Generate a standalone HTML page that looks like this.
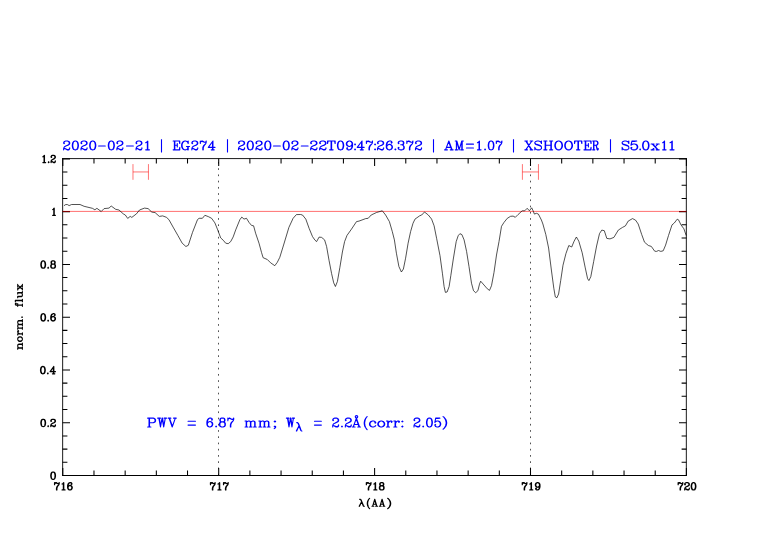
<!DOCTYPE html>
<html><head><meta charset="utf-8"><title>plot</title>
<style>
html,body{margin:0;padding:0;background:#fff;font-family:"Liberation Sans",sans-serif;}
svg{display:block;}
</style></head>
<body>
<svg width="782" height="542" viewBox="0 0 782 542">
<rect width="782" height="542" fill="#fff"/>
<g stroke="#000" stroke-width="1" fill="none" stroke-linecap="butt">
<path d="M62.65 158.1V475.9M686.33 158.1V475.9M62.2 158.58H686.8" stroke-width="0.9"/>
<path d="M62.2 475.5H686.8" stroke-width="1"/>
<path d="M62.8 475.5v-7.5M62.8 158.5v7.5M93.98 475.5v-4.9M93.98 158.5v4.9M125.16 475.5v-4.9M125.16 158.5v4.9M156.34 475.5v-4.9M156.34 158.5v4.9M187.52 475.5v-4.9M187.52 158.5v4.9M218.7 475.5v-7.5M218.7 158.5v7.5M249.88 475.5v-4.9M249.88 158.5v4.9M281.06 475.5v-4.9M281.06 158.5v4.9M312.24 475.5v-4.9M312.24 158.5v4.9M343.42 475.5v-4.9M343.42 158.5v4.9M374.6 475.5v-7.5M374.6 158.5v7.5M405.78 475.5v-4.9M405.78 158.5v4.9M436.96 475.5v-4.9M436.96 158.5v4.9M468.14 475.5v-4.9M468.14 158.5v4.9M499.32 475.5v-4.9M499.32 158.5v4.9M530.5 475.5v-7.5M530.5 158.5v7.5M561.68 475.5v-4.9M561.68 158.5v4.9M592.86 475.5v-4.9M592.86 158.5v4.9M624.04 475.5v-4.9M624.04 158.5v4.9M655.22 475.5v-4.9M655.22 158.5v4.9M686.4 475.5v-7.5M686.4 158.5v7.5M62.5 475.5h7.5M686.5 475.5h-7.5M62.5 462.31h4.9M686.5 462.31h-4.9M62.5 449.11h4.9M686.5 449.11h-4.9M62.5 435.92h4.9M686.5 435.92h-4.9M62.5 422.73h7.5M686.5 422.73h-7.5M62.5 409.53h4.9M686.5 409.53h-4.9M62.5 396.34h4.9M686.5 396.34h-4.9M62.5 383.14h4.9M686.5 383.14h-4.9M62.5 369.95h7.5M686.5 369.95h-7.5M62.5 356.76h4.9M686.5 356.76h-4.9M62.5 343.56h4.9M686.5 343.56h-4.9M62.5 330.37h4.9M686.5 330.37h-4.9M62.5 317.17h7.5M686.5 317.17h-7.5M62.5 303.98h4.9M686.5 303.98h-4.9M62.5 290.79h4.9M686.5 290.79h-4.9M62.5 277.59h4.9M686.5 277.59h-4.9M62.5 264.4h7.5M686.5 264.4h-7.5M62.5 251.21h4.9M686.5 251.21h-4.9M62.5 238.01h4.9M686.5 238.01h-4.9M62.5 224.82h4.9M686.5 224.82h-4.9M62.5 211.62h7.5M686.5 211.62h-7.5M62.5 198.43h4.9M686.5 198.43h-4.9M62.5 185.24h4.9M686.5 185.24h-4.9M62.5 172.04h4.9M686.5 172.04h-4.9M62.5 158.85h7.5M686.5 158.85h-7.5" stroke-width="1.05"/>
</g>
<path d="M218.5 475.5V158.5" stroke="#000" stroke-width="0.68" stroke-dasharray="1.7 4.535" stroke-dashoffset="6.174" fill="none"/>
<path d="M530.5 475.5V158.5" stroke="#000" stroke-width="0.68" stroke-dasharray="1.7 4.535" stroke-dashoffset="6.174" fill="none"/>
<path d="M62.5 211.4H686.5" stroke="#ff0000" stroke-width="0.57" fill="none"/>
<path d="M132.98 164.1V179.8M148.45 164.1V179.8M132.98 171.94H148.45" stroke="#ff0000" stroke-width="0.55" fill="none"/>
<path d="M522.4 164.1V179.8M538.44 164.1V179.8M522.4 171.94H538.44" stroke="#ff0000" stroke-width="0.55" fill="none"/>
<polyline points="64,205.7 65.8,204.5 67.5,204.6 69.1,205.6 71.6,204.5 80,204.5 84.1,206.3 92.4,208.3 94.9,209.8 96.9,208.3 101.2,211.5 104.1,208.6 109,208.1 111.2,206 115.7,209.3 119,210 123.2,213.8 125.3,215 127.7,218.4 130.2,216.4 131.8,217.4 136.5,213.8 139.5,210 144.5,208.1 148.1,208.6 151.8,212.1 155.1,212.6 159.3,216.4 162.7,215.9 166.4,217.3 168.9,219.6 173.1,227.1 178,235.7 182.2,243.2 185.9,246.5 188.3,245.3 192.5,232.4 197.5,219.6 199.1,218.3 202.4,218.3 204.9,215.3 208.3,216.6 211.6,218.3 214.9,222.9 217.4,229.1 220.7,237.9 223.2,240.2 225.7,243.2 228.2,243.7 230.7,241.6 233.2,236.9 235.7,229.9 239.9,219.6 241.8,217.1 244,219.1 246.5,218.3 249,222.4 251.5,225.4 253.6,225.8 255.6,233.2 259,243.2 261.5,252.4 263.1,257.7 267.3,259.5 270.6,262.8 274.8,265.7 277.3,262.3 279.8,257.3 283.9,244 288.9,227.4 293.1,218.3 296.4,214.6 300.5,214.5 302.5,215 305.8,219.1 309.1,228.3 312.5,236.6 315,240.2 316.6,241.6 319.1,237.1 321.6,237.4 324.6,239.9 326.6,246.5 329.1,260.7 331.6,273.6 333.7,282.8 335.4,286.5 337.4,281.5 339.9,267.3 342.4,252 344.6,241.6 347,235.4 351.5,229.1 356.5,221.6 359,221.1 365.7,218.6 368.2,218.3 371.2,215 376.5,212.5 382.3,210.8 385.6,215 389.4,221.6 392.3,231.6 394.4,239.9 396.4,253.2 398.9,266.5 401.4,272 403.4,269 405.6,258.2 408.1,243.2 410.6,231.6 413,223.3 415,219.1 419.7,215.8 421.7,215 424.5,212 428.3,215 431.6,219.1 434.1,225.8 436.6,238.3 440,255.7 442.4,273.2 444.1,286.6 445.4,292.4 447.1,292 449.1,286.6 450.8,275.7 453.3,259 456.2,241.6 458.2,235.7 459.9,233.7 461.9,234.6 464.1,239.9 466.6,251.5 469,266.6 471.5,283.2 473.5,290.7 475.7,292.7 477.9,290.7 479.5,284.1 480.7,281.2 484,285 487.3,288.8 489.5,290.4 491.5,285.7 494,272.4 496.5,255 499,241.6 501.5,226.3 504,222.4 507.3,218.3 510.6,216.3 513.1,216.1 515.3,217.3 518.1,214.5 522.2,210.8 524.7,210.8 527.2,208.3 529.4,210.8 531.7,207.8 533.1,210.8 534.4,214.1 536.4,213.3 538.4,214.1 541.4,220 542.9,224 545.8,234.5 548.6,248 551.5,271 553.8,288.2 555.3,296.9 556.9,297.8 558.6,294 560.7,280.6 563,265.2 565.9,253.7 568.8,245.5 571.7,247 574.1,241.2 576.4,237 578.8,241.2 582.2,252.8 585.1,267.1 587.6,278.7 588.9,280.6 590.8,276.7 593.7,261.4 596.6,246 599.5,233.6 601.8,230.1 604.3,230.7 606.8,238.4 610,238.9 613.9,237.4 618.3,230.1 622.5,227.4 625.4,225.9 628.2,221.1 632.5,218.6 635.5,220.1 638.2,224 641.7,234.5 644.5,242.2 648.4,245.5 651.3,246.4 654.7,251.2 656.6,251.4 658.5,250.5 660.8,251.4 663.2,250.8 665.6,245.1 668.5,235.5 672,224.9 674.3,223 677.2,219.2 678.5,219.8 681,224.9 683.9,228.8 686.2,235.5" fill="none" stroke="#000" stroke-width="0.68" stroke-linejoin="round"/>
<path d="M54.57 482.65 L54.57 484.72M54.57 484.03 L54.9 483.34 L55.55 482.65 L56.21 482.65 L57.84 483.69 L58.49 483.69 L58.82 483.34 L59.15 482.65M54.9 483.34 L55.55 483 L56.21 483 L57.84 483.69M59.15 482.65 L59.15 483.69 L58.82 484.72 L57.51 486.45 L57.19 487.14 L56.86 488.17 L56.86 489.9M58.82 484.72 L57.19 486.45 L56.86 487.14 L56.53 488.17 L56.53 489.9M62.09 484.03 L62.75 483.69 L63.73 482.65 L63.73 489.9M63.4 483 L63.4 489.9M62.09 489.9 L65.03 489.9M71.58 483.69 L71.25 484.03 L71.58 484.38 L71.9 484.03 L71.9 483.69 L71.58 483 L70.92 482.65 L69.94 482.65 L68.96 483 L68.3 483.69 L67.98 484.38 L67.65 485.76 L67.65 487.83 L67.98 488.86 L68.63 489.55 L69.61 489.9 L70.27 489.9 L71.25 489.55 L71.9 488.86 L72.23 487.83 L72.23 487.48 L71.9 486.45 L71.25 485.76 L70.27 485.41 L69.94 485.41 L68.96 485.76 L68.3 486.45 L67.98 487.48M69.94 482.65 L69.29 483 L68.63 483.69 L68.3 484.38 L67.98 485.76 L67.98 487.83 L68.3 488.86 L68.96 489.55 L69.61 489.9M70.27 489.9 L70.92 489.55 L71.58 488.86 L71.9 487.83 L71.9 487.48 L71.58 486.45 L70.92 485.76 L70.27 485.41" fill="none" stroke="#000" stroke-width="1.25" stroke-linecap="round" stroke-linejoin="round"/>
<path d="M210.47 482.65 L210.47 484.72M210.47 484.03 L210.8 483.34 L211.45 482.65 L212.11 482.65 L213.74 483.69 L214.39 483.69 L214.72 483.34 L215.05 482.65M210.8 483.34 L211.45 483 L212.11 483 L213.74 483.69M215.05 482.65 L215.05 483.69 L214.72 484.72 L213.41 486.45 L213.09 487.14 L212.76 488.17 L212.76 489.9M214.72 484.72 L213.09 486.45 L212.76 487.14 L212.43 488.17 L212.43 489.9M217.99 484.03 L218.65 483.69 L219.63 482.65 L219.63 489.9M219.3 483 L219.3 489.9M217.99 489.9 L220.93 489.9M223.55 482.65 L223.55 484.72M223.55 484.03 L223.88 483.34 L224.53 482.65 L225.19 482.65 L226.82 483.69 L227.47 483.69 L227.8 483.34 L228.13 482.65M223.88 483.34 L224.53 483 L225.19 483 L226.82 483.69M228.13 482.65 L228.13 483.69 L227.8 484.72 L226.49 486.45 L226.17 487.14 L225.84 488.17 L225.84 489.9M227.8 484.72 L226.17 486.45 L225.84 487.14 L225.51 488.17 L225.51 489.9" fill="none" stroke="#000" stroke-width="1.25" stroke-linecap="round" stroke-linejoin="round"/>
<path d="M366.37 482.65 L366.37 484.72M366.37 484.03 L366.7 483.34 L367.35 482.65 L368.01 482.65 L369.64 483.69 L370.3 483.69 L370.62 483.34 L370.95 482.65M366.7 483.34 L367.35 483 L368.01 483 L369.64 483.69M370.95 482.65 L370.95 483.69 L370.62 484.72 L369.31 486.45 L368.99 487.14 L368.66 488.17 L368.66 489.9M370.62 484.72 L368.99 486.45 L368.66 487.14 L368.33 488.17 L368.33 489.9M373.89 484.03 L374.55 483.69 L375.53 482.65 L375.53 489.9M375.2 483 L375.2 489.9M373.89 489.9 L376.84 489.9M381.09 482.65 L380.11 483 L379.78 483.69 L379.78 484.72 L380.11 485.41 L381.09 485.76 L382.39 485.76 L383.38 485.41 L383.7 484.72 L383.7 483.69 L383.38 483 L382.39 482.65 L381.09 482.65M381.09 482.65 L380.43 483 L380.11 483.69 L380.11 484.72 L380.43 485.41 L381.09 485.76M382.39 485.76 L383.05 485.41 L383.38 484.72 L383.38 483.69 L383.05 483 L382.39 482.65M381.09 485.76 L380.11 486.1 L379.78 486.45 L379.45 487.14 L379.45 488.52 L379.78 489.21 L380.11 489.55 L381.09 489.9 L382.39 489.9 L383.38 489.55 L383.7 489.21 L384.03 488.52 L384.03 487.14 L383.7 486.45 L383.38 486.1 L382.39 485.76M381.09 485.76 L380.43 486.1 L380.11 486.45 L379.78 487.14 L379.78 488.52 L380.11 489.21 L380.43 489.55 L381.09 489.9M382.39 489.9 L383.05 489.55 L383.38 489.21 L383.7 488.52 L383.7 487.14 L383.38 486.45 L383.05 486.1 L382.39 485.76" fill="none" stroke="#000" stroke-width="1.25" stroke-linecap="round" stroke-linejoin="round"/>
<path d="M522.27 482.65 L522.27 484.72M522.27 484.03 L522.6 483.34 L523.25 482.65 L523.91 482.65 L525.54 483.69 L526.2 483.69 L526.52 483.34 L526.85 482.65M522.6 483.34 L523.25 483 L523.91 483 L525.54 483.69M526.85 482.65 L526.85 483.69 L526.52 484.72 L525.21 486.45 L524.89 487.14 L524.56 488.17 L524.56 489.9M526.52 484.72 L524.89 486.45 L524.56 487.14 L524.23 488.17 L524.23 489.9M529.79 484.03 L530.45 483.69 L531.43 482.65 L531.43 489.9M531.1 483 L531.1 489.9M529.79 489.9 L532.74 489.9M539.6 485.07 L539.27 486.1 L538.62 486.79 L537.64 487.14 L537.31 487.14 L536.33 486.79 L535.68 486.1 L535.35 485.07 L535.35 484.72 L535.68 483.69 L536.33 483 L537.31 482.65 L537.97 482.65 L538.95 483 L539.6 483.69 L539.93 484.72 L539.93 486.79 L539.6 488.17 L539.27 488.86 L538.62 489.55 L537.64 489.9 L536.66 489.9 L536 489.55 L535.68 488.86 L535.68 488.52 L536 488.17 L536.33 488.52 L536 488.86M537.31 487.14 L536.66 486.79 L536 486.1 L535.68 485.07 L535.68 484.72 L536 483.69 L536.66 483 L537.31 482.65M537.97 482.65 L538.62 483 L539.27 483.69 L539.6 484.72 L539.6 486.79 L539.27 488.17 L538.95 488.86 L538.29 489.55 L537.64 489.9" fill="none" stroke="#000" stroke-width="1.25" stroke-linecap="round" stroke-linejoin="round"/>
<path d="M678.17 482.65 L678.17 484.72M678.17 484.03 L678.5 483.34 L679.15 482.65 L679.81 482.65 L681.44 483.69 L682.1 483.69 L682.42 483.34 L682.75 482.65M678.5 483.34 L679.15 483 L679.81 483 L681.44 483.69M682.75 482.65 L682.75 483.69 L682.42 484.72 L681.11 486.45 L680.79 487.14 L680.46 488.17 L680.46 489.9M682.42 484.72 L680.79 486.45 L680.46 487.14 L680.13 488.17 L680.13 489.9M685.04 484.03 L685.37 484.38 L685.04 484.72 L684.71 484.38 L684.71 484.03 L685.04 483.34 L685.37 483 L686.35 482.65 L687.65 482.65 L688.63 483 L688.96 483.34 L689.29 484.03 L689.29 484.72 L688.96 485.41 L687.98 486.1 L686.35 486.79 L685.69 487.14 L685.04 487.83 L684.71 488.86 L684.71 489.9M687.65 482.65 L688.31 483 L688.63 483.34 L688.96 484.03 L688.96 484.72 L688.63 485.41 L687.65 486.1 L686.35 486.79M684.71 489.21 L685.04 488.86 L685.69 488.86 L687.33 489.55 L688.31 489.55 L688.96 489.21 L689.29 488.86M685.69 488.86 L687.33 489.9 L688.63 489.9 L688.96 489.55 L689.29 488.86 L689.29 488.17M693.21 482.65 L692.23 483 L691.58 484.03 L691.25 485.76 L691.25 486.79 L691.58 488.52 L692.23 489.55 L693.21 489.9 L693.87 489.9 L694.85 489.55 L695.5 488.52 L695.83 486.79 L695.83 485.76 L695.5 484.03 L694.85 483 L693.87 482.65 L693.21 482.65M693.21 482.65 L692.56 483 L692.23 483.34 L691.9 484.03 L691.58 485.76 L691.58 486.79 L691.9 488.52 L692.23 489.21 L692.56 489.55 L693.21 489.9M693.87 489.9 L694.52 489.55 L694.85 489.21 L695.17 488.52 L695.5 486.79 L695.5 485.76 L695.17 484.03 L694.85 483.34 L694.52 483 L693.87 482.65" fill="none" stroke="#000" stroke-width="1.25" stroke-linecap="round" stroke-linejoin="round"/>
<path d="M42.88 260.95 L41.89 261.3 L41.23 262.33 L40.9 264.06 L40.9 265.09 L41.23 266.82 L41.89 267.85 L42.88 268.2 L43.54 268.2 L44.53 267.85 L45.19 266.82 L45.52 265.09 L45.52 264.06 L45.19 262.33 L44.53 261.3 L43.54 260.95 L42.88 260.95M42.88 260.95 L42.22 261.3 L41.89 261.64 L41.56 262.33 L41.23 264.06 L41.23 265.09 L41.56 266.82 L41.89 267.51 L42.22 267.85 L42.88 268.2M43.54 268.2 L44.2 267.85 L44.53 267.51 L44.86 266.82 L45.19 265.09 L45.19 264.06 L44.86 262.33 L44.53 261.64 L44.2 261.3 L43.54 260.95M48.16 267.51 L47.83 267.85 L48.16 268.2 L48.49 267.85 L48.16 267.51M52.45 260.95 L51.46 261.3 L51.13 261.99 L51.13 263.02 L51.46 263.71 L52.45 264.06 L53.77 264.06 L54.77 263.71 L55.09 263.02 L55.09 261.99 L54.77 261.3 L53.77 260.95 L52.45 260.95M52.45 260.95 L51.79 261.3 L51.46 261.99 L51.46 263.02 L51.79 263.71 L52.45 264.06M53.77 264.06 L54.43 263.71 L54.77 263.02 L54.77 261.99 L54.43 261.3 L53.77 260.95M52.45 264.06 L51.46 264.4 L51.13 264.75 L50.8 265.44 L50.8 266.82 L51.13 267.51 L51.46 267.85 L52.45 268.2 L53.77 268.2 L54.77 267.85 L55.09 267.51 L55.42 266.82 L55.42 265.44 L55.09 264.75 L54.77 264.4 L53.77 264.06M52.45 264.06 L51.79 264.4 L51.46 264.75 L51.13 265.44 L51.13 266.82 L51.46 267.51 L51.79 267.85 L52.45 268.2M53.77 268.2 L54.43 267.85 L54.77 267.51 L55.09 266.82 L55.09 265.44 L54.77 264.75 L54.43 264.4 L53.77 264.06" fill="none" stroke="#000" stroke-width="1.25" stroke-linecap="round" stroke-linejoin="round"/>
<path d="M42.88 313.73 L41.89 314.08 L41.23 315.11 L40.9 316.84 L40.9 317.87 L41.23 319.6 L41.89 320.63 L42.88 320.98 L43.54 320.98 L44.53 320.63 L45.19 319.6 L45.52 317.87 L45.52 316.84 L45.19 315.11 L44.53 314.08 L43.54 313.73 L42.88 313.73M42.88 313.73 L42.22 314.08 L41.89 314.42 L41.56 315.11 L41.23 316.84 L41.23 317.87 L41.56 319.6 L41.89 320.29 L42.22 320.63 L42.88 320.98M43.54 320.98 L44.2 320.63 L44.53 320.29 L44.86 319.6 L45.19 317.87 L45.19 316.84 L44.86 315.11 L44.53 314.42 L44.2 314.08 L43.54 313.73M48.16 320.29 L47.83 320.63 L48.16 320.98 L48.49 320.63 L48.16 320.29M54.77 314.77 L54.43 315.11 L54.77 315.46 L55.09 315.11 L55.09 314.77 L54.77 314.08 L54.1 313.73 L53.11 313.73 L52.12 314.08 L51.46 314.77 L51.13 315.46 L50.8 316.84 L50.8 318.91 L51.13 319.94 L51.79 320.63 L52.78 320.98 L53.44 320.98 L54.43 320.63 L55.09 319.94 L55.42 318.91 L55.42 318.56 L55.09 317.53 L54.43 316.84 L53.44 316.49 L53.11 316.49 L52.12 316.84 L51.46 317.53 L51.13 318.56M53.11 313.73 L52.45 314.08 L51.79 314.77 L51.46 315.46 L51.13 316.84 L51.13 318.91 L51.46 319.94 L52.12 320.63 L52.78 320.98M53.44 320.98 L54.1 320.63 L54.77 319.94 L55.09 318.91 L55.09 318.56 L54.77 317.53 L54.1 316.84 L53.44 316.49" fill="none" stroke="#000" stroke-width="1.25" stroke-linecap="round" stroke-linejoin="round"/>
<path d="M42.55 366.5 L41.56 366.85 L40.9 367.88 L40.57 369.61 L40.57 370.64 L40.9 372.37 L41.56 373.4 L42.55 373.75 L43.21 373.75 L44.2 373.4 L44.86 372.37 L45.19 370.64 L45.19 369.61 L44.86 367.88 L44.2 366.85 L43.21 366.5 L42.55 366.5M42.55 366.5 L41.89 366.85 L41.56 367.19 L41.23 367.88 L40.9 369.61 L40.9 370.64 L41.23 372.37 L41.56 373.06 L41.89 373.4 L42.55 373.75M43.21 373.75 L43.87 373.4 L44.2 373.06 L44.53 372.37 L44.86 370.64 L44.86 369.61 L44.53 367.88 L44.2 367.19 L43.87 366.85 L43.21 366.5M47.83 373.06 L47.5 373.4 L47.83 373.75 L48.16 373.4 L47.83 373.06M53.44 367.19 L53.44 373.75M53.77 366.5 L53.77 373.75M53.77 366.5 L50.14 371.68 L55.42 371.68M52.45 373.75 L54.77 373.75" fill="none" stroke="#000" stroke-width="1.25" stroke-linecap="round" stroke-linejoin="round"/>
<path d="M42.88 419.28 L41.89 419.63 L41.23 420.66 L40.9 422.39 L40.9 423.42 L41.23 425.15 L41.89 426.18 L42.88 426.53 L43.54 426.53 L44.53 426.18 L45.19 425.15 L45.52 423.42 L45.52 422.39 L45.19 420.66 L44.53 419.63 L43.54 419.28 L42.88 419.28M42.88 419.28 L42.22 419.63 L41.89 419.97 L41.56 420.66 L41.23 422.39 L41.23 423.42 L41.56 425.15 L41.89 425.84 L42.22 426.18 L42.88 426.53M43.54 426.53 L44.2 426.18 L44.53 425.84 L44.86 425.15 L45.19 423.42 L45.19 422.39 L44.86 420.66 L44.53 419.97 L44.2 419.63 L43.54 419.28M48.16 425.84 L47.83 426.18 L48.16 426.53 L48.49 426.18 L48.16 425.84M51.13 420.66 L51.46 421.01 L51.13 421.35 L50.8 421.01 L50.8 420.66 L51.13 419.97 L51.46 419.63 L52.45 419.28 L53.77 419.28 L54.77 419.63 L55.09 419.97 L55.42 420.66 L55.42 421.35 L55.09 422.04 L54.1 422.73 L52.45 423.42 L51.79 423.77 L51.13 424.46 L50.8 425.49 L50.8 426.53M53.77 419.28 L54.43 419.63 L54.77 419.97 L55.09 420.66 L55.09 421.35 L54.77 422.04 L53.77 422.73 L52.45 423.42M50.8 425.84 L51.13 425.49 L51.79 425.49 L53.44 426.18 L54.43 426.18 L55.09 425.84 L55.42 425.49M51.79 425.49 L53.44 426.53 L54.77 426.53 L55.09 426.18 L55.42 425.49 L55.42 424.8" fill="none" stroke="#000" stroke-width="1.25" stroke-linecap="round" stroke-linejoin="round"/>
<path d="M52.78 472.06 L51.8 472.4 L51.13 473.44 L50.8 475.16 L50.8 476.19 L51.13 477.92 L51.8 478.95 L52.78 479.3 L53.45 479.3 L54.43 478.95 L55.09 477.92 L55.42 476.19 L55.42 475.16 L55.09 473.44 L54.43 472.4 L53.45 472.06 L52.78 472.06M52.78 472.06 L52.12 472.4 L51.8 472.75 L51.46 473.44 L51.13 475.16 L51.13 476.19 L51.46 477.92 L51.8 478.61 L52.12 478.95 L52.78 479.3M53.45 479.3 L54.1 478.95 L54.43 478.61 L54.77 477.92 L55.09 476.19 L55.09 475.16 L54.77 473.44 L54.43 472.75 L54.1 472.4 L53.45 472.06" fill="none" stroke="#000" stroke-width="1.25" stroke-linecap="round" stroke-linejoin="round"/>
<path d="M42.91 156.74 L43.51 156.39 L44.42 155.36 L44.42 162.6M44.12 155.7 L44.12 162.6M42.91 162.6 L45.63 162.6M48.66 161.91 L48.35 162.26 L48.66 162.6 L48.96 162.26 L48.66 161.91M51.38 156.74 L51.68 157.08 L51.38 157.43 L51.08 157.08 L51.08 156.74 L51.38 156.05 L51.68 155.7 L52.59 155.36 L53.8 155.36 L54.71 155.7 L55.01 156.05 L55.31 156.74 L55.31 157.43 L55.01 158.12 L54.1 158.81 L52.59 159.5 L51.99 159.84 L51.38 160.53 L51.08 161.57 L51.08 162.6M53.8 155.36 L54.41 155.7 L54.71 156.05 L55.01 156.74 L55.01 157.43 L54.71 158.12 L53.8 158.81 L52.59 159.5M51.08 161.91 L51.38 161.57 L51.99 161.57 L53.5 162.26 L54.41 162.26 L55.01 161.91 L55.31 161.57M51.99 161.57 L53.5 162.6 L54.71 162.6 L55.01 162.26 L55.31 161.57 L55.31 160.88" fill="none" stroke="#000" stroke-width="1.25" stroke-linecap="round" stroke-linejoin="round"/>
<path d="M52.73 209.51 L53.3 209.16 L54.16 208.13 L54.16 215.38M53.88 208.47 L53.88 215.38M52.73 215.38 L55.31 215.38" fill="none" stroke="#000" stroke-width="1.25" stroke-linecap="round" stroke-linejoin="round"/>
<path d="M17.7 348.19 L22.4 348.19M17.7 347.85 L22.4 347.85M18.7 347.85 L18.03 347.18 L17.7 346.17 L17.7 345.5 L18.03 344.49 L18.7 344.15 L22.4 344.15M17.7 345.5 L18.03 344.83 L18.7 344.49 L22.4 344.49M17.7 349.2 L17.7 347.85M22.4 349.2 L22.4 346.84M22.4 345.5 L22.4 343.14M17.7 339.43 L18.03 340.44 L18.7 341.11 L19.71 341.45 L20.38 341.45 L21.39 341.11 L22.06 340.44 L22.4 339.43 L22.4 338.76 L22.06 337.75 L21.39 337.07 L20.38 336.74 L19.71 336.74 L18.7 337.07 L18.03 337.75 L17.7 338.76 L17.7 339.43M17.7 339.43 L18.03 340.1 L18.7 340.78 L19.71 341.11 L20.38 341.11 L21.39 340.78 L22.06 340.1 L22.4 339.43M22.4 338.76 L22.06 338.08 L21.39 337.41 L20.38 337.07 L19.71 337.07 L18.7 337.41 L18.03 338.08 L17.7 338.76M17.7 334.03 L22.4 334.03M17.7 333.7 L22.4 333.7M19.71 333.7 L18.7 333.36 L18.03 332.69 L17.7 332.02 L17.7 331.01 L18.03 330.67 L18.37 330.67 L18.7 331.01 L18.37 331.34 L18.03 331.01M17.7 335.04 L17.7 333.7M22.4 335.04 L22.4 332.69M17.7 328.3 L22.4 328.3M17.7 327.97 L22.4 327.97M18.7 327.97 L18.03 327.29 L17.7 326.28 L17.7 325.61 L18.03 324.6 L18.7 324.26 L22.4 324.26M17.7 325.61 L18.03 324.94 L18.7 324.6 L22.4 324.6M18.7 324.26 L18.03 323.59 L17.7 322.58 L17.7 321.91 L18.03 320.9 L18.7 320.56 L22.4 320.56M17.7 321.91 L18.03 321.24 L18.7 320.9 L22.4 320.9M17.7 329.31 L17.7 327.97M22.4 329.31 L22.4 326.96M22.4 325.61 L22.4 323.26M22.4 321.91 L22.4 319.55M21.73 317.19 L22.06 317.52 L22.4 317.19 L22.06 316.85 L21.73 317.19" fill="none" stroke="#000" stroke-width="1.1" stroke-linecap="round" stroke-linejoin="round"/>
<path d="M15.68 303.59 L16.02 303.93 L16.35 303.59 L16.02 303.24 L15.68 303.24 L15.34 303.59 L15.34 304.28 L15.68 304.97 L16.35 305.31 L22.4 305.31M15.34 304.28 L15.68 304.62 L16.35 304.97 L22.4 304.97M17.7 306.35 L17.7 303.59M22.4 306.35 L22.4 303.93M15.34 300.64 L22.4 300.64M15.34 300.3 L22.4 300.3M15.34 301.68 L15.34 300.3M22.4 301.68 L22.4 299.26M17.7 296.66 L21.39 296.66 L22.06 296.32 L22.4 295.28 L22.4 294.59 L22.06 293.56 L21.39 292.87M17.7 296.32 L21.39 296.32 L22.06 295.97 L22.4 295.28M17.7 292.87 L22.4 292.87M17.7 292.52 L22.4 292.52M17.7 297.7 L17.7 296.32M17.7 293.9 L17.7 292.52M22.4 292.87 L22.4 291.49M17.7 289.23 L22.4 285.44M17.7 288.89 L22.4 285.09M17.7 285.09 L22.4 289.23M17.7 289.92 L17.7 287.85M17.7 286.47 L17.7 284.4M22.4 289.92 L22.4 287.85M22.4 286.47 L22.4 284.4" fill="none" stroke="#000" stroke-width="1.1" stroke-linecap="round" stroke-linejoin="round"/>
<path d="M359.5 499.24 L360.14 499.24 L360.77 499.58 L361.09 499.92 L361.41 500.59 L363.32 505.29 L363.64 505.96 L363.96 506.3M360.14 499.24 L360.77 499.92 L361.09 500.59 L363 505.29 L363.32 505.96 L363.96 506.3 L364.28 506.3M361.73 501.6 L359.18 506.3M361.73 501.6 L359.5 506.3" fill="none" stroke="#000" stroke-width="1.1" stroke-linecap="round" stroke-linejoin="round"/>
<path d="M369.65 498.3 L368.98 498.95 L368.31 499.93 L367.64 501.23 L367.3 502.85 L367.3 504.16 L367.64 505.78 L368.31 507.08 L368.98 508.06 L369.65 508.71M368.98 498.95 L368.31 500.25 L367.97 501.23 L367.64 502.85 L367.64 504.16 L367.97 505.78 L368.31 506.76 L368.98 508.06" fill="none" stroke="#000" stroke-width="1.1" stroke-linecap="round" stroke-linejoin="round"/>
<path d="M374.75 499.24 L372.57 506.3M374.75 499.24 L376.93 506.3M374.75 500.25 L376.62 506.3M373.19 504.28 L375.99 504.28M371.95 506.3 L373.82 506.3M375.68 506.3 L377.55 506.3" fill="none" stroke="#000" stroke-width="1.1" stroke-linecap="round" stroke-linejoin="round"/>
<path d="M382.08 499.24 L379.96 506.3M382.08 499.24 L384.2 506.3M382.08 500.25 L383.9 506.3M380.56 504.28 L383.29 504.28M379.35 506.3 L381.17 506.3M382.99 506.3 L384.81 506.3" fill="none" stroke="#000" stroke-width="1.1" stroke-linecap="round" stroke-linejoin="round"/>
<path d="M387.63 498.3 L388.5 498.95 L389.38 499.93 L390.25 501.23 L390.69 502.85 L390.69 504.16 L390.25 505.78 L389.38 507.08 L388.5 508.06 L387.63 508.71M388.5 498.95 L389.38 500.25 L389.82 501.23 L390.25 502.85 L390.25 504.16 L389.82 505.78 L389.38 506.76 L388.5 508.06" fill="none" stroke="#000" stroke-width="1.1" stroke-linecap="round" stroke-linejoin="round"/>
<path d="M64.05 142.71 L64.49 143.13 L64.05 143.55 L63.62 143.13 L63.62 142.71 L64.05 141.87 L64.49 141.45 L65.79 141.03 L67.53 141.03 L68.83 141.45 L69.27 141.87 L69.7 142.71 L69.7 143.55 L69.27 144.39 L67.96 145.23 L65.79 146.07 L64.92 146.49 L64.05 147.33 L63.62 148.59 L63.62 149.85M67.53 141.03 L68.4 141.45 L68.83 141.87 L69.27 142.71 L69.27 143.55 L68.83 144.39 L67.53 145.23 L65.79 146.07M63.62 149.01 L64.05 148.59 L64.92 148.59 L67.1 149.43 L68.4 149.43 L69.27 149.01 L69.7 148.59M64.92 148.59 L67.1 149.85 L68.83 149.85 L69.27 149.43 L69.7 148.59 L69.7 147.75M74.92 141.03 L73.61 141.45 L72.74 142.71 L72.31 144.81 L72.31 146.07 L72.74 148.17 L73.61 149.43 L74.92 149.85 L75.78 149.85 L77.09 149.43 L77.96 148.17 L78.39 146.07 L78.39 144.81 L77.96 142.71 L77.09 141.45 L75.78 141.03 L74.92 141.03M74.92 141.03 L74.05 141.45 L73.61 141.87 L73.18 142.71 L72.74 144.81 L72.74 146.07 L73.18 148.17 L73.61 149.01 L74.05 149.43 L74.92 149.85M75.78 149.85 L76.65 149.43 L77.09 149.01 L77.52 148.17 L77.96 146.07 L77.96 144.81 L77.52 142.71 L77.09 141.87 L76.65 141.45 L75.78 141.03M81.43 142.71 L81.87 143.13 L81.43 143.55 L81 143.13 L81 142.71 L81.43 141.87 L81.87 141.45 L83.17 141.03 L84.91 141.03 L86.21 141.45 L86.65 141.87 L87.08 142.71 L87.08 143.55 L86.65 144.39 L85.34 145.23 L83.17 146.07 L82.3 146.49 L81.43 147.33 L81 148.59 L81 149.85M84.91 141.03 L85.78 141.45 L86.21 141.87 L86.65 142.71 L86.65 143.55 L86.21 144.39 L84.91 145.23 L83.17 146.07M81 149.01 L81.43 148.59 L82.3 148.59 L84.47 149.43 L85.78 149.43 L86.65 149.01 L87.08 148.59M82.3 148.59 L84.47 149.85 L86.21 149.85 L86.65 149.43 L87.08 148.59 L87.08 147.75M92.29 141.03 L90.99 141.45 L90.12 142.71 L89.69 144.81 L89.69 146.07 L90.12 148.17 L90.99 149.43 L92.29 149.85 L93.16 149.85 L94.47 149.43 L95.34 148.17 L95.77 146.07 L95.77 144.81 L95.34 142.71 L94.47 141.45 L93.16 141.03 L92.29 141.03M92.29 141.03 L91.43 141.45 L90.99 141.87 L90.56 142.71 L90.12 144.81 L90.12 146.07 L90.56 148.17 L90.99 149.01 L91.43 149.43 L92.29 149.85M93.16 149.85 L94.03 149.43 L94.47 149.01 L94.9 148.17 L95.34 146.07 L95.34 144.81 L94.9 142.71 L94.47 141.87 L94.03 141.45 L93.16 141.03" fill="none" stroke="#0000ff" stroke-width="1.1" stroke-linecap="round" stroke-linejoin="round"/>
<path d="M98.61 146.07 L105.28 146.07" fill="none" stroke="#0000ff" stroke-width="1.1" stroke-linecap="round" stroke-linejoin="round"/>
<path d="M110.9 141.03 L109.61 141.45 L108.76 142.71 L108.33 144.81 L108.33 146.07 L108.76 148.17 L109.61 149.43 L110.9 149.85 L111.75 149.85 L113.04 149.43 L113.89 148.17 L114.32 146.07 L114.32 144.81 L113.89 142.71 L113.04 141.45 L111.75 141.03 L110.9 141.03M110.9 141.03 L110.04 141.45 L109.61 141.87 L109.19 142.71 L108.76 144.81 L108.76 146.07 L109.19 148.17 L109.61 149.01 L110.04 149.43 L110.9 149.85M111.75 149.85 L112.61 149.43 L113.04 149.01 L113.47 148.17 L113.89 146.07 L113.89 144.81 L113.47 142.71 L113.04 141.87 L112.61 141.45 L111.75 141.03M117.32 142.71 L117.74 143.13 L117.32 143.55 L116.89 143.13 L116.89 142.71 L117.32 141.87 L117.74 141.45 L119.03 141.03 L120.74 141.03 L122.02 141.45 L122.45 141.87 L122.88 142.71 L122.88 143.55 L122.45 144.39 L121.17 145.23 L119.03 146.07 L118.17 146.49 L117.32 147.33 L116.89 148.59 L116.89 149.85M120.74 141.03 L121.6 141.45 L122.02 141.87 L122.45 142.71 L122.45 143.55 L122.02 144.39 L120.74 145.23 L119.03 146.07M116.89 149.01 L117.32 148.59 L118.17 148.59 L120.31 149.43 L121.6 149.43 L122.45 149.01 L122.88 148.59M118.17 148.59 L120.31 149.85 L122.02 149.85 L122.45 149.43 L122.88 148.59 L122.88 147.75" fill="none" stroke="#0000ff" stroke-width="1.1" stroke-linecap="round" stroke-linejoin="round"/>
<path d="M126.53 146.07 L133.31 146.07" fill="none" stroke="#0000ff" stroke-width="1.1" stroke-linecap="round" stroke-linejoin="round"/>
<path d="M136.47 142.71 L136.89 143.13 L136.47 143.55 L136.05 143.13 L136.05 142.71 L136.47 141.87 L136.89 141.45 L138.14 141.03 L139.82 141.03 L141.08 141.45 L141.49 141.87 L141.91 142.71 L141.91 143.55 L141.49 144.39 L140.24 145.23 L138.14 146.07 L137.31 146.49 L136.47 147.33 L136.05 148.59 L136.05 149.85M139.82 141.03 L140.66 141.45 L141.08 141.87 L141.49 142.71 L141.49 143.55 L141.08 144.39 L139.82 145.23 L138.14 146.07M136.05 149.01 L136.47 148.59 L137.31 148.59 L139.4 149.43 L140.66 149.43 L141.49 149.01 L141.91 148.59M137.31 148.59 L139.4 149.85 L141.08 149.85 L141.49 149.43 L141.91 148.59 L141.91 147.75M145.68 142.71 L146.52 142.29 L147.78 141.03 L147.78 149.85M147.36 141.45 L147.36 149.85M145.68 149.85 L149.45 149.85" fill="none" stroke="#0000ff" stroke-width="1.1" stroke-linecap="round" stroke-linejoin="round"/>
<path d="M174.39 141.03 L174.39 149.85M174.8 141.03 L174.8 149.85M177.28 143.55 L177.28 146.91M173.15 141.03 L179.75 141.03 L179.75 143.55 L179.34 141.03M174.8 145.23 L177.28 145.23M173.15 149.85 L179.75 149.85 L179.75 147.33 L179.34 149.85" fill="none" stroke="#0000ff" stroke-width="1.1" stroke-linecap="round" stroke-linejoin="round"/>
<path d="M187.76 142.29 L188.2 143.55 L188.2 141.03 L187.76 142.29 L186.89 141.45 L185.58 141.03 L184.71 141.03 L183.4 141.45 L182.52 142.29 L182.09 143.13 L181.65 144.39 L181.65 146.49 L182.09 147.75 L182.52 148.59 L183.4 149.43 L184.71 149.85 L185.58 149.85 L186.89 149.43 L187.76 148.59M184.71 141.03 L183.83 141.45 L182.96 142.29 L182.52 143.13 L182.09 144.39 L182.09 146.49 L182.52 147.75 L182.96 148.59 L183.83 149.43 L184.71 149.85M187.76 146.49 L187.76 149.85M188.2 146.49 L188.2 149.85M186.45 146.49 L189.51 146.49" fill="none" stroke="#0000ff" stroke-width="1.1" stroke-linecap="round" stroke-linejoin="round"/>
<path d="M192.27 142.71 L192.69 143.13 L192.27 143.55 L191.85 143.13 L191.85 142.71 L192.27 141.87 L192.69 141.45 L193.96 141.03 L195.65 141.03 L196.91 141.45 L197.33 141.87 L197.76 142.71 L197.76 143.55 L197.33 144.39 L196.07 145.23 L193.96 146.07 L193.12 146.49 L192.27 147.33 L191.85 148.59 L191.85 149.85M195.65 141.03 L196.49 141.45 L196.91 141.87 L197.33 142.71 L197.33 143.55 L196.91 144.39 L195.65 145.23 L193.96 146.07M191.85 149.01 L192.27 148.59 L193.12 148.59 L195.22 149.43 L196.49 149.43 L197.33 149.01 L197.76 148.59M193.12 148.59 L195.22 149.85 L196.91 149.85 L197.33 149.43 L197.76 148.59 L197.76 147.75M200.29 141.03 L200.29 143.55M200.29 142.71 L200.71 141.87 L201.55 141.03 L202.4 141.03 L204.5 142.29 L205.35 142.29 L205.77 141.87 L206.19 141.03M200.71 141.87 L201.55 141.45 L202.4 141.45 L204.5 142.29M206.19 141.03 L206.19 142.29 L205.77 143.55 L204.08 145.65 L203.66 146.49 L203.24 147.75 L203.24 149.85M205.77 143.55 L203.66 145.65 L203.24 146.49 L202.82 147.75 L202.82 149.85M212.52 141.87 L212.52 149.85M212.94 141.03 L212.94 149.85M212.94 141.03 L208.3 147.33 L215.05 147.33M211.25 149.85 L214.21 149.85" fill="none" stroke="#0000ff" stroke-width="1.1" stroke-linecap="round" stroke-linejoin="round"/>
<path d="M238.92 142.71 L239.35 143.13 L238.92 143.55 L238.48 143.13 L238.48 142.71 L238.92 141.87 L239.35 141.45 L240.67 141.03 L242.42 141.03 L243.73 141.45 L244.16 141.87 L244.6 142.71 L244.6 143.55 L244.16 144.39 L242.85 145.23 L240.67 146.07 L239.79 146.49 L238.92 147.33 L238.48 148.59 L238.48 149.85M242.42 141.03 L243.29 141.45 L243.73 141.87 L244.16 142.71 L244.16 143.55 L243.73 144.39 L242.42 145.23 L240.67 146.07M238.48 149.01 L238.92 148.59 L239.79 148.59 L241.98 149.43 L243.29 149.43 L244.16 149.01 L244.6 148.59M239.79 148.59 L241.98 149.85 L243.73 149.85 L244.16 149.43 L244.6 148.59 L244.6 147.75M249.85 141.03 L248.54 141.45 L247.66 142.71 L247.23 144.81 L247.23 146.07 L247.66 148.17 L248.54 149.43 L249.85 149.85 L250.72 149.85 L252.04 149.43 L252.91 148.17 L253.35 146.07 L253.35 144.81 L252.91 142.71 L252.04 141.45 L250.72 141.03 L249.85 141.03M249.85 141.03 L248.98 141.45 L248.54 141.87 L248.1 142.71 L247.66 144.81 L247.66 146.07 L248.1 148.17 L248.54 149.01 L248.98 149.43 L249.85 149.85M250.72 149.85 L251.6 149.43 L252.04 149.01 L252.47 148.17 L252.91 146.07 L252.91 144.81 L252.47 142.71 L252.04 141.87 L251.6 141.45 L250.72 141.03M256.41 142.71 L256.85 143.13 L256.41 143.55 L255.97 143.13 L255.97 142.71 L256.41 141.87 L256.85 141.45 L258.16 141.03 L259.91 141.03 L261.22 141.45 L261.66 141.87 L262.09 142.71 L262.09 143.55 L261.66 144.39 L260.34 145.23 L258.16 146.07 L257.28 146.49 L256.41 147.33 L255.97 148.59 L255.97 149.85M259.91 141.03 L260.78 141.45 L261.22 141.87 L261.66 142.71 L261.66 143.55 L261.22 144.39 L259.91 145.23 L258.16 146.07M255.97 149.01 L256.41 148.59 L257.28 148.59 L259.47 149.43 L260.78 149.43 L261.66 149.01 L262.09 148.59M257.28 148.59 L259.47 149.85 L261.22 149.85 L261.66 149.43 L262.09 148.59 L262.09 147.75M267.34 141.03 L266.03 141.45 L265.16 142.71 L264.72 144.81 L264.72 146.07 L265.16 148.17 L266.03 149.43 L267.34 149.85 L268.22 149.85 L269.53 149.43 L270.4 148.17 L270.84 146.07 L270.84 144.81 L270.4 142.71 L269.53 141.45 L268.22 141.03 L267.34 141.03M267.34 141.03 L266.47 141.45 L266.03 141.87 L265.59 142.71 L265.16 144.81 L265.16 146.07 L265.59 148.17 L266.03 149.01 L266.47 149.43 L267.34 149.85M268.22 149.85 L269.09 149.43 L269.53 149.01 L269.97 148.17 L270.4 146.07 L270.4 144.81 L269.97 142.71 L269.53 141.87 L269.09 141.45 L268.22 141.03" fill="none" stroke="#0000ff" stroke-width="1.1" stroke-linecap="round" stroke-linejoin="round"/>
<path d="M273.47 146.07 L280.35 146.07" fill="none" stroke="#0000ff" stroke-width="1.1" stroke-linecap="round" stroke-linejoin="round"/>
<path d="M285.79 141.03 L284.49 141.45 L283.62 142.71 L283.19 144.81 L283.19 146.07 L283.62 148.17 L284.49 149.43 L285.79 149.85 L286.66 149.85 L287.97 149.43 L288.83 148.17 L289.27 146.07 L289.27 144.81 L288.83 142.71 L287.97 141.45 L286.66 141.03 L285.79 141.03M285.79 141.03 L284.93 141.45 L284.49 141.87 L284.06 142.71 L283.62 144.81 L283.62 146.07 L284.06 148.17 L284.49 149.01 L284.93 149.43 L285.79 149.85M286.66 149.85 L287.53 149.43 L287.97 149.01 L288.4 148.17 L288.83 146.07 L288.83 144.81 L288.4 142.71 L287.97 141.87 L287.53 141.45 L286.66 141.03M292.31 142.71 L292.74 143.13 L292.31 143.55 L291.87 143.13 L291.87 142.71 L292.31 141.87 L292.74 141.45 L294.04 141.03 L295.78 141.03 L297.08 141.45 L297.52 141.87 L297.95 142.71 L297.95 143.55 L297.52 144.39 L296.21 145.23 L294.04 146.07 L293.17 146.49 L292.31 147.33 L291.87 148.59 L291.87 149.85M295.78 141.03 L296.65 141.45 L297.08 141.87 L297.52 142.71 L297.52 143.55 L297.08 144.39 L295.78 145.23 L294.04 146.07M291.87 149.01 L292.31 148.59 L293.17 148.59 L295.35 149.43 L296.65 149.43 L297.52 149.01 L297.95 148.59M293.17 148.59 L295.35 149.85 L297.08 149.85 L297.52 149.43 L297.95 148.59 L297.95 147.75" fill="none" stroke="#0000ff" stroke-width="1.1" stroke-linecap="round" stroke-linejoin="round"/>
<path d="M301.3 146.07 L308.1 146.07" fill="none" stroke="#0000ff" stroke-width="1.1" stroke-linecap="round" stroke-linejoin="round"/>
<path d="M311.1 142.71 L311.55 143.13 L311.1 143.55 L310.65 143.13 L310.65 142.71 L311.1 141.87 L311.55 141.45 L312.9 141.03 L314.7 141.03 L316.05 141.45 L316.5 141.87 L316.95 142.71 L316.95 143.55 L316.5 144.39 L315.15 145.23 L312.9 146.07 L312 146.49 L311.1 147.33 L310.65 148.59 L310.65 149.85M314.7 141.03 L315.6 141.45 L316.05 141.87 L316.5 142.71 L316.5 143.55 L316.05 144.39 L314.7 145.23 L312.9 146.07M310.65 149.01 L311.1 148.59 L312 148.59 L314.25 149.43 L315.6 149.43 L316.5 149.01 L316.95 148.59M312 148.59 L314.25 149.85 L316.05 149.85 L316.5 149.43 L316.95 148.59 L316.95 147.75M320.1 142.71 L320.55 143.13 L320.1 143.55 L319.65 143.13 L319.65 142.71 L320.1 141.87 L320.55 141.45 L321.9 141.03 L323.7 141.03 L325.05 141.45 L325.5 141.87 L325.95 142.71 L325.95 143.55 L325.5 144.39 L324.15 145.23 L321.9 146.07 L321 146.49 L320.1 147.33 L319.65 148.59 L319.65 149.85M323.7 141.03 L324.6 141.45 L325.05 141.87 L325.5 142.71 L325.5 143.55 L325.05 144.39 L323.7 145.23 L321.9 146.07M319.65 149.01 L320.1 148.59 L321 148.59 L323.25 149.43 L324.6 149.43 L325.5 149.01 L325.95 148.59M321 148.59 L323.25 149.85 L325.05 149.85 L325.5 149.43 L325.95 148.59 L325.95 147.75" fill="none" stroke="#0000ff" stroke-width="1.1" stroke-linecap="round" stroke-linejoin="round"/>
<path d="M331.1 141.03 L331.1 149.85M331.6 141.03 L331.6 149.85M328.06 141.03 L327.55 143.55 L327.55 141.03 L335.15 141.03 L335.15 143.55 L334.64 141.03M329.58 149.85 L333.12 149.85" fill="none" stroke="#0000ff" stroke-width="1.1" stroke-linecap="round" stroke-linejoin="round"/>
<path d="M340.11 141.03 L338.78 141.45 L337.89 142.71 L337.45 144.81 L337.45 146.07 L337.89 148.17 L338.78 149.43 L340.11 149.85 L341 149.85 L342.34 149.43 L343.22 148.17 L343.67 146.07 L343.67 144.81 L343.22 142.71 L342.34 141.45 L341 141.03 L340.11 141.03M340.11 141.03 L339.23 141.45 L338.78 141.87 L338.34 142.71 L337.89 144.81 L337.89 146.07 L338.34 148.17 L338.78 149.01 L339.23 149.43 L340.11 149.85M341 149.85 L341.89 149.43 L342.34 149.01 L342.78 148.17 L343.22 146.07 L343.22 144.81 L342.78 142.71 L342.34 141.87 L341.89 141.45 L341 141.03M352.11 143.97 L351.66 145.23 L350.77 146.07 L349.44 146.49 L349 146.49 L347.66 146.07 L346.78 145.23 L346.33 143.97 L346.33 143.55 L346.78 142.29 L347.66 141.45 L349 141.03 L349.89 141.03 L351.22 141.45 L352.11 142.29 L352.55 143.55 L352.55 146.07 L352.11 147.75 L351.66 148.59 L350.77 149.43 L349.44 149.85 L348.11 149.85 L347.22 149.43 L346.78 148.59 L346.78 148.17 L347.22 147.75 L347.66 148.17 L347.22 148.59M349 146.49 L348.11 146.07 L347.22 145.23 L346.78 143.97 L346.78 143.55 L347.22 142.29 L348.11 141.45 L349 141.03M349.89 141.03 L350.77 141.45 L351.66 142.29 L352.11 143.55 L352.11 146.07 L351.66 147.75 L351.22 148.59 L350.33 149.43 L349.44 149.85" fill="none" stroke="#0000ff" stroke-width="1.1" stroke-linecap="round" stroke-linejoin="round"/>
<path d="M355.05 143.97 L354.65 144.39 L355.05 144.81 L355.45 144.39 L355.05 143.97M355.05 149.01 L354.65 149.43 L355.05 149.85 L355.45 149.43 L355.05 149.01" fill="none" stroke="#0000ff" stroke-width="1.1" stroke-linecap="round" stroke-linejoin="round"/>
<path d="M361.57 141.87 L361.57 149.85M362.01 141.03 L362.01 149.85M362.01 141.03 L357.21 147.33 L364.19 147.33M360.26 149.85 L363.32 149.85M366.37 141.03 L366.37 143.55M366.37 142.71 L366.81 141.87 L367.68 141.03 L368.55 141.03 L370.73 142.29 L371.61 142.29 L372.04 141.87 L372.48 141.03M366.81 141.87 L367.68 141.45 L368.55 141.45 L370.73 142.29M372.48 141.03 L372.48 142.29 L372.04 143.55 L370.3 145.65 L369.86 146.49 L369.43 147.75 L369.43 149.85M372.04 143.55 L369.86 145.65 L369.43 146.49 L368.99 147.75 L368.99 149.85" fill="none" stroke="#0000ff" stroke-width="1.1" stroke-linecap="round" stroke-linejoin="round"/>
<path d="M375.08 143.97 L374.6 144.39 L375.08 144.81 L375.55 144.39 L375.08 143.97M375.08 149.01 L374.6 149.43 L375.08 149.85 L375.55 149.43 L375.08 149.01" fill="none" stroke="#0000ff" stroke-width="1.1" stroke-linecap="round" stroke-linejoin="round"/>
<path d="M377.95 142.71 L378.39 143.13 L377.95 143.55 L377.51 143.13 L377.51 142.71 L377.95 141.87 L378.39 141.45 L379.71 141.03 L381.46 141.03 L382.78 141.45 L383.22 141.87 L383.66 142.71 L383.66 143.55 L383.22 144.39 L381.9 145.23 L379.71 146.07 L378.83 146.49 L377.95 147.33 L377.51 148.59 L377.51 149.85M381.46 141.03 L382.34 141.45 L382.78 141.87 L383.22 142.71 L383.22 143.55 L382.78 144.39 L381.46 145.23 L379.71 146.07M377.51 149.01 L377.95 148.59 L378.83 148.59 L381.03 149.43 L382.34 149.43 L383.22 149.01 L383.66 148.59M378.83 148.59 L381.03 149.85 L382.78 149.85 L383.22 149.43 L383.66 148.59 L383.66 147.75M391.57 142.29 L391.13 142.71 L391.57 143.13 L392.01 142.71 L392.01 142.29 L391.57 141.45 L390.69 141.03 L389.37 141.03 L388.06 141.45 L387.18 142.29 L386.74 143.13 L386.3 144.81 L386.3 147.33 L386.74 148.59 L387.62 149.43 L388.93 149.85 L389.81 149.85 L391.13 149.43 L392.01 148.59 L392.45 147.33 L392.45 146.91 L392.01 145.65 L391.13 144.81 L389.81 144.39 L389.37 144.39 L388.06 144.81 L387.18 145.65 L386.74 146.91M389.37 141.03 L388.5 141.45 L387.62 142.29 L387.18 143.13 L386.74 144.81 L386.74 147.33 L387.18 148.59 L388.06 149.43 L388.93 149.85M389.81 149.85 L390.69 149.43 L391.57 148.59 L392.01 147.33 L392.01 146.91 L391.57 145.65 L390.69 144.81 L389.81 144.39" fill="none" stroke="#0000ff" stroke-width="1.1" stroke-linecap="round" stroke-linejoin="round"/>
<path d="M395.38 149.01 L394.9 149.43 L395.38 149.85 L395.85 149.43 L395.38 149.01" fill="none" stroke="#0000ff" stroke-width="1.1" stroke-linecap="round" stroke-linejoin="round"/>
<path d="M398.58 142.71 L399.02 143.13 L398.58 143.55 L398.15 143.13 L398.15 142.71 L398.58 141.87 L399.02 141.45 L400.32 141.03 L402.05 141.03 L403.35 141.45 L403.78 142.29 L403.78 143.55 L403.35 144.39 L402.05 144.81 L400.75 144.81M402.05 141.03 L402.92 141.45 L403.35 142.29 L403.35 143.55 L402.92 144.39 L402.05 144.81M402.05 144.81 L402.92 145.23 L403.78 146.07 L404.22 146.91 L404.22 148.17 L403.78 149.01 L403.35 149.43 L402.05 149.85 L400.32 149.85 L399.02 149.43 L398.58 149.01 L398.15 148.17 L398.15 147.75 L398.58 147.33 L399.02 147.75 L398.58 148.17M403.35 145.65 L403.78 146.91 L403.78 148.17 L403.35 149.01 L402.92 149.43 L402.05 149.85M406.82 141.03 L406.82 143.55M406.82 142.71 L407.25 141.87 L408.12 141.03 L408.98 141.03 L411.15 142.29 L412.02 142.29 L412.45 141.87 L412.88 141.03M407.25 141.87 L408.12 141.45 L408.98 141.45 L411.15 142.29M412.88 141.03 L412.88 142.29 L412.45 143.55 L410.72 145.65 L410.28 146.49 L409.85 147.75 L409.85 149.85M412.45 143.55 L410.28 145.65 L409.85 146.49 L409.42 147.75 L409.42 149.85M415.92 142.71 L416.35 143.13 L415.92 143.55 L415.48 143.13 L415.48 142.71 L415.92 141.87 L416.35 141.45 L417.65 141.03 L419.38 141.03 L420.68 141.45 L421.12 141.87 L421.55 142.71 L421.55 143.55 L421.12 144.39 L419.82 145.23 L417.65 146.07 L416.78 146.49 L415.92 147.33 L415.48 148.59 L415.48 149.85M419.38 141.03 L420.25 141.45 L420.68 141.87 L421.12 142.71 L421.12 143.55 L420.68 144.39 L419.38 145.23 L417.65 146.07M415.48 149.01 L415.92 148.59 L416.78 148.59 L418.95 149.43 L420.25 149.43 L421.12 149.01 L421.55 148.59M416.78 148.59 L418.95 149.85 L420.68 149.85 L421.12 149.43 L421.55 148.59 L421.55 147.75" fill="none" stroke="#0000ff" stroke-width="1.1" stroke-linecap="round" stroke-linejoin="round"/>
<path d="M448.85 141.03 L445.51 149.85M448.85 141.03 L452.19 149.85M448.85 142.29 L451.72 149.85M446.46 147.33 L450.76 147.33M444.55 149.85 L447.42 149.85M450.28 149.85 L453.15 149.85" fill="none" stroke="#0000ff" stroke-width="1.1" stroke-linecap="round" stroke-linejoin="round"/>
<path d="M456.41 141.03 L456.41 149.85M456.79 141.03 L459.11 148.59M456.41 141.03 L459.11 149.85M461.81 141.03 L459.11 149.85M461.81 141.03 L461.81 149.85M462.19 141.03 L462.19 149.85M455.25 141.03 L456.79 141.03M461.81 141.03 L463.35 141.03M455.25 149.85 L457.56 149.85M460.65 149.85 L463.35 149.85" fill="none" stroke="#0000ff" stroke-width="1.1" stroke-linecap="round" stroke-linejoin="round"/>
<path d="M466.45 144.14 L473.45 144.14M466.45 148 L473.45 148" fill="none" stroke="#0000ff" stroke-width="1.1" stroke-linecap="round" stroke-linejoin="round"/>
<path d="M477.45 142.71 L478.25 142.29 L479.45 141.03 L479.45 149.85M479.05 141.45 L479.05 149.85M477.45 149.85 L481.06 149.85M485.07 149.01 L484.66 149.43 L485.07 149.85 L485.47 149.43 L485.07 149.01M490.68 141.03 L489.47 141.45 L488.67 142.71 L488.27 144.81 L488.27 146.07 L488.67 148.17 L489.47 149.43 L490.68 149.85 L491.48 149.85 L492.68 149.43 L493.48 148.17 L493.88 146.07 L493.88 144.81 L493.48 142.71 L492.68 141.45 L491.48 141.03 L490.68 141.03M490.68 141.03 L489.88 141.45 L489.47 141.87 L489.07 142.71 L488.67 144.81 L488.67 146.07 L489.07 148.17 L489.47 149.01 L489.88 149.43 L490.68 149.85M491.48 149.85 L492.28 149.43 L492.68 149.01 L493.08 148.17 L493.48 146.07 L493.48 144.81 L493.08 142.71 L492.68 141.87 L492.28 141.45 L491.48 141.03M496.29 141.03 L496.29 143.55M496.29 142.71 L496.69 141.87 L497.49 141.03 L498.29 141.03 L500.3 142.29 L501.1 142.29 L501.5 141.87 L501.9 141.03M496.69 141.87 L497.49 141.45 L498.29 141.45 L500.3 142.29M501.9 141.03 L501.9 142.29 L501.5 143.55 L499.9 145.65 L499.5 146.49 L499.09 147.75 L499.09 149.85M501.5 143.55 L499.5 145.65 L499.09 146.49 L498.69 147.75 L498.69 149.85" fill="none" stroke="#0000ff" stroke-width="1.1" stroke-linecap="round" stroke-linejoin="round"/>
<path d="M525.73 141.03 L531.43 149.85M526.17 141.03 L531.87 149.85M531.87 141.03 L525.73 149.85M524.85 141.03 L527.48 141.03M530.12 141.03 L532.75 141.03M524.85 149.85 L527.48 149.85M530.12 149.85 L532.75 149.85" fill="none" stroke="#0000ff" stroke-width="1.1" stroke-linecap="round" stroke-linejoin="round"/>
<path d="M540.98 142.29 L541.45 141.03 L541.45 143.55 L540.98 142.29 L540.04 141.45 L538.62 141.03 L537.21 141.03 L535.79 141.45 L534.85 142.29 L534.85 143.13 L535.32 143.97 L535.79 144.39 L536.74 144.81 L539.56 145.65 L540.51 146.07 L541.45 146.91M534.85 143.13 L535.79 143.97 L536.74 144.39 L539.56 145.23 L540.51 145.65 L540.98 146.07 L541.45 146.91 L541.45 148.59 L540.51 149.43 L539.09 149.85 L537.68 149.85 L536.26 149.43 L535.32 148.59 L534.85 147.33 L534.85 149.85 L535.32 148.59" fill="none" stroke="#0000ff" stroke-width="1.1" stroke-linecap="round" stroke-linejoin="round"/>
<path d="M545.17 141.03 L545.17 149.85M545.61 141.03 L545.61 149.85M550.89 141.03 L550.89 149.85M551.33 141.03 L551.33 149.85M543.85 141.03 L546.93 141.03M549.57 141.03 L552.65 141.03M545.61 145.23 L550.89 145.23M543.85 149.85 L546.93 149.85M549.57 149.85 L552.65 149.85" fill="none" stroke="#0000ff" stroke-width="1.1" stroke-linecap="round" stroke-linejoin="round"/>
<path d="M558.17 141.03 L556.75 141.45 L555.8 142.29 L555.32 143.13 L554.85 144.81 L554.85 146.07 L555.32 147.75 L555.8 148.59 L556.75 149.43 L558.17 149.85 L559.12 149.85 L560.55 149.43 L561.5 148.59 L561.97 147.75 L562.45 146.07 L562.45 144.81 L561.97 143.13 L561.5 142.29 L560.55 141.45 L559.12 141.03 L558.17 141.03M558.17 141.03 L557.22 141.45 L556.27 142.29 L555.8 143.13 L555.32 144.81 L555.32 146.07 L555.8 147.75 L556.27 148.59 L557.22 149.43 L558.17 149.85M559.12 149.85 L560.07 149.43 L561.02 148.59 L561.5 147.75 L561.97 146.07 L561.97 144.81 L561.5 143.13 L561.02 142.29 L560.07 141.45 L559.12 141.03" fill="none" stroke="#0000ff" stroke-width="1.1" stroke-linecap="round" stroke-linejoin="round"/>
<path d="M568.12 141.03 L566.67 141.45 L565.71 142.29 L565.23 143.13 L564.75 144.81 L564.75 146.07 L565.23 147.75 L565.71 148.59 L566.67 149.43 L568.12 149.85 L569.08 149.85 L570.52 149.43 L571.49 148.59 L571.97 147.75 L572.45 146.07 L572.45 144.81 L571.97 143.13 L571.49 142.29 L570.52 141.45 L569.08 141.03 L568.12 141.03M568.12 141.03 L567.16 141.45 L566.19 142.29 L565.71 143.13 L565.23 144.81 L565.23 146.07 L565.71 147.75 L566.19 148.59 L567.16 149.43 L568.12 149.85M569.08 149.85 L570.04 149.43 L571.01 148.59 L571.49 147.75 L571.97 146.07 L571.97 144.81 L571.49 143.13 L571.01 142.29 L570.04 141.45 L569.08 141.03" fill="none" stroke="#0000ff" stroke-width="1.1" stroke-linecap="round" stroke-linejoin="round"/>
<path d="M577.96 141.03 L577.96 149.85M578.44 141.03 L578.44 149.85M575.04 141.03 L574.55 143.55 L574.55 141.03 L581.85 141.03 L581.85 143.55 L581.36 141.03M576.5 149.85 L579.9 149.85" fill="none" stroke="#0000ff" stroke-width="1.1" stroke-linecap="round" stroke-linejoin="round"/>
<path d="M585.28 141.03 L585.28 149.85M585.72 141.03 L585.72 149.85M588.39 143.55 L588.39 146.91M583.95 141.03 L591.05 141.03 L591.05 143.55 L590.61 141.03M585.72 145.23 L588.39 145.23M583.95 149.85 L591.05 149.85 L591.05 147.33 L590.61 149.85" fill="none" stroke="#0000ff" stroke-width="1.1" stroke-linecap="round" stroke-linejoin="round"/>
<path d="M593.59 141.03 L593.59 149.85M593.91 141.03 L593.91 149.85M592.65 141.03 L596.42 141.03 L597.36 141.45 L597.67 141.87 L597.99 142.71 L597.99 143.55 L597.67 144.39 L597.36 144.81 L596.42 145.23 L593.91 145.23M596.42 141.03 L597.04 141.45 L597.36 141.87 L597.67 142.71 L597.67 143.55 L597.36 144.39 L597.04 144.81 L596.42 145.23M592.65 149.85 L594.85 149.85M595.48 145.23 L596.1 145.65 L596.42 146.07 L597.36 149.01 L597.67 149.43 L597.99 149.43 L598.3 149.01M596.1 145.65 L596.42 146.49 L597.04 149.43 L597.36 149.85 L597.99 149.85 L598.3 149.01 L598.3 148.59" fill="none" stroke="#0000ff" stroke-width="1.1" stroke-linecap="round" stroke-linejoin="round"/>
<path d="M628.34 142.29 L628.82 141.03 L628.82 143.55 L628.34 142.29 L627.39 141.45 L625.96 141.03 L624.53 141.03 L623.1 141.45 L622.15 142.29 L622.15 143.13 L622.63 143.97 L623.1 144.39 L624.06 144.81 L626.91 145.65 L627.87 146.07 L628.82 146.91M622.15 143.13 L623.1 143.97 L624.06 144.39 L626.91 145.23 L627.87 145.65 L628.34 146.07 L628.82 146.91 L628.82 148.59 L627.87 149.43 L626.44 149.85 L625.01 149.85 L623.58 149.43 L622.63 148.59 L622.15 147.33 L622.15 149.85 L622.63 148.59" fill="none" stroke="#0000ff" stroke-width="1.1" stroke-linecap="round" stroke-linejoin="round"/>
<path d="M631.92 141.03 L630.95 145.23M630.95 145.23 L631.92 144.39 L633.37 143.97 L634.82 143.97 L636.27 144.39 L637.24 145.23 L637.72 146.49 L637.72 147.33 L637.24 148.59 L636.27 149.43 L634.82 149.85 L633.37 149.85 L631.92 149.43 L631.43 149.01 L630.95 148.17 L630.95 147.75 L631.43 147.33 L631.92 147.75 L631.43 148.17M634.82 143.97 L635.79 144.39 L636.75 145.23 L637.24 146.49 L637.24 147.33 L636.75 148.59 L635.79 149.43 L634.82 149.85M631.92 141.03 L636.75 141.03M631.92 141.45 L634.33 141.45 L636.75 141.03" fill="none" stroke="#0000ff" stroke-width="1.1" stroke-linecap="round" stroke-linejoin="round"/>
<path d="M640.16 149.01 L639.85 149.43 L640.16 149.85 L640.48 149.43 L640.16 149.01" fill="none" stroke="#0000ff" stroke-width="1.1" stroke-linecap="round" stroke-linejoin="round"/>
<path d="M645.34 141.03 L643.97 141.45 L643.06 142.71 L642.61 144.81 L642.61 146.07 L643.06 148.17 L643.97 149.43 L645.34 149.85 L646.24 149.85 L647.61 149.43 L648.52 148.17 L648.97 146.07 L648.97 144.81 L648.52 142.71 L647.61 141.45 L646.24 141.03 L645.34 141.03M645.34 141.03 L644.43 141.45 L643.97 141.87 L643.52 142.71 L643.06 144.81 L643.06 146.07 L643.52 148.17 L643.97 149.01 L644.43 149.43 L645.34 149.85M646.24 149.85 L647.15 149.43 L647.61 149.01 L648.06 148.17 L648.52 146.07 L648.52 144.81 L648.06 142.71 L647.61 141.87 L647.15 141.45 L646.24 141.03" fill="none" stroke="#0000ff" stroke-width="1.1" stroke-linecap="round" stroke-linejoin="round"/>
<path d="M652.11 143.97 L657.68 149.85M652.62 143.97 L658.19 149.85M658.19 143.97 L652.11 149.85M651.1 143.97 L654.14 143.97M656.16 143.97 L659.2 143.97M651.1 149.85 L654.14 149.85M656.16 149.85 L659.2 149.85" fill="none" stroke="#0000ff" stroke-width="1.1" stroke-linecap="round" stroke-linejoin="round"/>
<path d="M662.65 142.71 L663.41 142.29 L664.54 141.03 L664.54 149.85M664.16 141.45 L664.16 149.85M662.65 149.85 L666.05 149.85" fill="none" stroke="#0000ff" stroke-width="1.1" stroke-linecap="round" stroke-linejoin="round"/>
<path d="M670.02 142.71 L670.92 142.29 L672.26 141.03 L672.26 149.85M671.81 141.45 L671.81 149.85M670.02 149.85 L674.05 149.85" fill="none" stroke="#0000ff" stroke-width="1.1" stroke-linecap="round" stroke-linejoin="round"/>
<path d="M161.5 139.3V152.5M227.5 139.3V152.5M433.5 139.3V152.5M513.5 139.3V152.5M610.5 139.3V152.5" stroke="#0000ff" stroke-width="1.1" stroke-linecap="butt" fill="none"/>
<path d="M149.04 418.13 L149.04 426.95M149.51 418.13 L149.51 426.95M147.65 418.13 L153.23 418.13 L154.62 418.55 L155.09 418.97 L155.55 419.81 L155.55 421.07 L155.09 421.91 L154.62 422.33 L153.23 422.75 L149.51 422.75M153.23 418.13 L154.16 418.55 L154.62 418.97 L155.09 419.81 L155.09 421.07 L154.62 421.91 L154.16 422.33 L153.23 422.75M147.65 426.95 L150.9 426.95" fill="none" stroke="#0000ff" stroke-width="1.1" stroke-linecap="round" stroke-linejoin="round"/>
<path d="M158.86 418.13 L160.47 426.95M159.26 418.13 L160.47 424.85M162.08 418.13 L160.47 426.95M162.08 418.13 L163.69 426.95M162.48 418.13 L163.69 424.85M165.3 418.13 L163.69 426.95M157.65 418.13 L160.47 418.13M164.09 418.13 L166.51 418.13" fill="none" stroke="#0000ff" stroke-width="1.1" stroke-linecap="round" stroke-linejoin="round"/>
<path d="M169.05 418.13 L172.2 426.95M169.5 418.13 L172.2 425.69M175.35 418.13 L172.2 426.95M168.15 418.13 L170.85 418.13M173.55 418.13 L176.25 418.13" fill="none" stroke="#0000ff" stroke-width="1.1" stroke-linecap="round" stroke-linejoin="round"/>
<path d="M188.05 421.24 L195.45 421.24M188.05 425.1 L195.45 425.1" fill="none" stroke="#0000ff" stroke-width="1.1" stroke-linecap="round" stroke-linejoin="round"/>
<path d="M211.92 419.39 L211.5 419.81 L211.92 420.23 L212.34 419.81 L212.34 419.39 L211.92 418.55 L211.08 418.13 L209.82 418.13 L208.57 418.55 L207.73 419.39 L207.31 420.23 L206.89 421.91 L206.89 424.43 L207.31 425.69 L208.15 426.53 L209.41 426.95 L210.24 426.95 L211.5 426.53 L212.34 425.69 L212.76 424.43 L212.76 424.01 L212.34 422.75 L211.5 421.91 L210.24 421.49 L209.82 421.49 L208.57 421.91 L207.73 422.75 L207.31 424.01M209.82 418.13 L208.99 418.55 L208.15 419.39 L207.73 420.23 L207.31 421.91 L207.31 424.43 L207.73 425.69 L208.57 426.53 L209.41 426.95M210.24 426.95 L211.08 426.53 L211.92 425.69 L212.34 424.43 L212.34 424.01 L211.92 422.75 L211.08 421.91 L210.24 421.49M216.11 426.11 L215.69 426.53 L216.11 426.95 L216.53 426.53 L216.11 426.11M221.56 418.13 L220.31 418.55 L219.89 419.39 L219.89 420.65 L220.31 421.49 L221.56 421.91 L223.24 421.91 L224.5 421.49 L224.92 420.65 L224.92 419.39 L224.5 418.55 L223.24 418.13 L221.56 418.13M221.56 418.13 L220.72 418.55 L220.31 419.39 L220.31 420.65 L220.72 421.49 L221.56 421.91M223.24 421.91 L224.08 421.49 L224.5 420.65 L224.5 419.39 L224.08 418.55 L223.24 418.13M221.56 421.91 L220.31 422.33 L219.89 422.75 L219.47 423.59 L219.47 425.27 L219.89 426.11 L220.31 426.53 L221.56 426.95 L223.24 426.95 L224.5 426.53 L224.92 426.11 L225.34 425.27 L225.34 423.59 L224.92 422.75 L224.5 422.33 L223.24 421.91M221.56 421.91 L220.72 422.33 L220.31 422.75 L219.89 423.59 L219.89 425.27 L220.31 426.11 L220.72 426.53 L221.56 426.95M223.24 426.95 L224.08 426.53 L224.5 426.11 L224.92 425.27 L224.92 423.59 L224.5 422.75 L224.08 422.33 L223.24 421.91M227.85 418.13 L227.85 420.65M227.85 419.81 L228.27 418.97 L229.11 418.13 L229.95 418.13 L232.04 419.39 L232.88 419.39 L233.3 418.97 L233.72 418.13M228.27 418.97 L229.11 418.55 L229.95 418.55 L232.04 419.39M233.72 418.13 L233.72 419.39 L233.3 420.65 L231.62 422.75 L231.2 423.59 L230.79 424.85 L230.79 426.95M233.3 420.65 L231.2 422.75 L230.79 423.59 L230.37 424.85 L230.37 426.95" fill="none" stroke="#0000ff" stroke-width="1.1" stroke-linecap="round" stroke-linejoin="round"/>
<path d="M246.21 421.07 L246.21 426.95M246.59 421.07 L246.59 426.95M246.59 422.33 L247.37 421.49 L248.53 421.07 L249.3 421.07 L250.46 421.49 L250.84 422.33 L250.84 426.95M249.3 421.07 L250.07 421.49 L250.46 422.33 L250.46 426.95M250.84 422.33 L251.62 421.49 L252.77 421.07 L253.55 421.07 L254.71 421.49 L255.09 422.33 L255.09 426.95M253.55 421.07 L254.32 421.49 L254.71 422.33 L254.71 426.95M245.05 421.07 L246.59 421.07M245.05 426.95 L247.75 426.95M249.3 426.95 L252 426.95M253.55 426.95 L256.25 426.95" fill="none" stroke="#0000ff" stroke-width="1.1" stroke-linecap="round" stroke-linejoin="round"/>
<path d="M260.01 421.07 L260.01 426.95M260.39 421.07 L260.39 426.95M260.39 422.33 L261.17 421.49 L262.33 421.07 L263.1 421.07 L264.26 421.49 L264.64 422.33 L264.64 426.95M263.1 421.07 L263.87 421.49 L264.26 422.33 L264.26 426.95M264.64 422.33 L265.42 421.49 L266.57 421.07 L267.35 421.07 L268.51 421.49 L268.89 422.33 L268.89 426.95M267.35 421.07 L268.12 421.49 L268.51 422.33 L268.51 426.95M258.85 421.07 L260.39 421.07M258.85 426.95 L261.55 426.95M263.1 426.95 L265.8 426.95M267.35 426.95 L270.05 426.95" fill="none" stroke="#0000ff" stroke-width="1.1" stroke-linecap="round" stroke-linejoin="round"/>
<path d="M274.93 421.07 L274.21 421.49 L274.93 421.91 L275.65 421.49 L274.93 421.07M274.93 426.95 L274.21 426.53 L274.93 426.11 L275.65 426.53 L275.65 427.37 L274.93 428.21 L274.21 428.63" fill="none" stroke="#0000ff" stroke-width="1.1" stroke-linecap="round" stroke-linejoin="round"/>
<path d="M287.51 418.13 L288.99 426.95M287.88 418.13 L288.99 424.85M290.46 418.13 L288.99 426.95M290.46 418.13 L291.93 426.95M290.83 418.13 L291.93 424.85M293.41 418.13 L291.93 426.95M286.41 418.13 L288.99 418.13M292.3 418.13 L294.51 418.13" fill="none" stroke="#0000ff" stroke-width="1.1" stroke-linecap="round" stroke-linejoin="round"/>
<path d="M314.45 421.24 L321.35 421.24M314.45 425.1 L321.35 425.1" fill="none" stroke="#0000ff" stroke-width="1.1" stroke-linecap="round" stroke-linejoin="round"/>
<path d="M333.13 419.81 L333.55 420.23 L333.13 420.65 L332.71 420.23 L332.71 419.81 L333.13 418.97 L333.55 418.55 L334.82 418.13 L336.5 418.13 L337.77 418.55 L338.19 418.97 L338.61 419.81 L338.61 420.65 L338.19 421.49 L336.92 422.33 L334.82 423.17 L333.97 423.59 L333.13 424.43 L332.71 425.69 L332.71 426.95M336.5 418.13 L337.35 418.55 L337.77 418.97 L338.19 419.81 L338.19 420.65 L337.77 421.49 L336.5 422.33 L334.82 423.17M332.71 426.11 L333.13 425.69 L333.97 425.69 L336.08 426.53 L337.35 426.53 L338.19 426.11 L338.61 425.69M333.97 425.69 L336.08 426.95 L337.77 426.95 L338.19 426.53 L338.61 425.69 L338.61 424.85M341.98 426.11 L341.56 426.53 L341.98 426.95 L342.4 426.53 L341.98 426.11M345.77 419.81 L346.19 420.23 L345.77 420.65 L345.35 420.23 L345.35 419.81 L345.77 418.97 L346.19 418.55 L347.46 418.13 L349.14 418.13 L350.41 418.55 L350.83 418.97 L351.25 419.81 L351.25 420.65 L350.83 421.49 L349.56 422.33 L347.46 423.17 L346.62 423.59 L345.77 424.43 L345.35 425.69 L345.35 426.95M349.14 418.13 L349.99 418.55 L350.41 418.97 L350.83 419.81 L350.83 420.65 L350.41 421.49 L349.14 422.33 L347.46 423.17M345.35 426.11 L345.77 425.69 L346.62 425.69 L348.72 426.53 L349.99 426.53 L350.83 426.11 L351.25 425.69M346.62 425.69 L348.72 426.95 L350.41 426.95 L350.83 426.53 L351.25 425.69 L351.25 424.85" fill="none" stroke="#0000ff" stroke-width="1.1" stroke-linecap="round" stroke-linejoin="round"/>
<path d="M356.4 418.13 L353.25 426.95M356.4 418.13 L359.55 426.95M356.4 419.39 L359.1 426.95M354.15 424.43 L358.2 424.43M352.35 426.95 L355.05 426.95M357.75 426.95 L360.45 426.95" fill="none" stroke="#0000ff" stroke-width="1.1" stroke-linecap="round" stroke-linejoin="round"/>
<path d="M375.27 422.33 L374.79 422.75 L375.27 423.17 L375.75 422.75 L375.75 422.33 L374.79 421.49 L373.83 421.07 L372.38 421.07 L370.94 421.49 L369.98 422.33 L369.5 423.59 L369.5 424.43 L369.98 425.69 L370.94 426.53 L372.38 426.95 L373.35 426.95 L374.79 426.53 L375.75 425.69M372.38 421.07 L371.42 421.49 L370.46 422.33 L369.98 423.59 L369.98 424.43 L370.46 425.69 L371.42 426.53 L372.38 426.95" fill="none" stroke="#0000ff" stroke-width="1.1" stroke-linecap="round" stroke-linejoin="round"/>
<path d="M380.77 421.07 L379.29 421.49 L378.3 422.33 L377.81 423.59 L377.81 424.43 L378.3 425.69 L379.29 426.53 L380.77 426.95 L381.75 426.95 L383.23 426.53 L384.22 425.69 L384.71 424.43 L384.71 423.59 L384.22 422.33 L383.23 421.49 L381.75 421.07 L380.77 421.07M380.77 421.07 L379.78 421.49 L378.8 422.33 L378.3 423.59 L378.3 424.43 L378.8 425.69 L379.78 426.53 L380.77 426.95M381.75 426.95 L382.74 426.53 L383.72 425.69 L384.22 424.43 L384.22 423.59 L383.72 422.33 L382.74 421.49 L381.75 421.07" fill="none" stroke="#0000ff" stroke-width="1.1" stroke-linecap="round" stroke-linejoin="round"/>
<path d="M387.74 421.07 L387.74 426.95M388.17 421.07 L388.17 426.95M388.17 423.59 L388.6 422.33 L389.47 421.49 L390.33 421.07 L391.62 421.07 L392.05 421.49 L392.05 421.91 L391.62 422.33 L391.19 421.91 L391.62 421.49M386.45 421.07 L388.17 421.07M386.45 426.95 L389.47 426.95" fill="none" stroke="#0000ff" stroke-width="1.1" stroke-linecap="round" stroke-linejoin="round"/>
<path d="M395.09 421.07 L395.09 426.95M395.53 421.07 L395.53 426.95M395.53 423.59 L395.96 422.33 L396.82 421.49 L397.68 421.07 L398.98 421.07 L399.41 421.49 L399.41 421.91 L398.98 422.33 L398.55 421.91 L398.98 421.49M393.8 421.07 L395.53 421.07M393.8 426.95 L396.82 426.95" fill="none" stroke="#0000ff" stroke-width="1.1" stroke-linecap="round" stroke-linejoin="round"/>
<path d="M402.36 421.07 L401.79 421.49 L402.36 421.91 L402.93 421.49 L402.36 421.07M402.36 426.11 L401.79 426.53 L402.36 426.95 L402.93 426.53 L402.36 426.11" fill="none" stroke="#0000ff" stroke-width="1.1" stroke-linecap="round" stroke-linejoin="round"/>
<path d="M414.41 419.81 L414.83 420.23 L414.41 420.65 L413.99 420.23 L413.99 419.81 L414.41 418.97 L414.83 418.55 L416.08 418.13 L417.75 418.13 L419 418.55 L419.42 418.97 L419.84 419.81 L419.84 420.65 L419.42 421.49 L418.17 422.33 L416.08 423.17 L415.24 423.59 L414.41 424.43 L413.99 425.69 L413.99 426.95M417.75 418.13 L418.58 418.55 L419 418.97 L419.42 419.81 L419.42 420.65 L419 421.49 L417.75 422.33 L416.08 423.17M413.99 426.11 L414.41 425.69 L415.24 425.69 L417.33 426.53 L418.58 426.53 L419.42 426.11 L419.84 425.69M415.24 425.69 L417.33 426.95 L419 426.95 L419.42 426.53 L419.84 425.69 L419.84 424.85M423.18 426.11 L422.76 426.53 L423.18 426.95 L423.6 426.53 L423.18 426.11M429.03 418.13 L427.77 418.55 L426.94 419.81 L426.52 421.91 L426.52 423.17 L426.94 425.27 L427.77 426.53 L429.03 426.95 L429.86 426.95 L431.11 426.53 L431.95 425.27 L432.37 423.17 L432.37 421.91 L431.95 419.81 L431.11 418.55 L429.86 418.13 L429.03 418.13M429.03 418.13 L428.19 418.55 L427.77 418.97 L427.36 419.81 L426.94 421.91 L426.94 423.17 L427.36 425.27 L427.77 426.11 L428.19 426.53 L429.03 426.95M429.86 426.95 L430.7 426.53 L431.11 426.11 L431.53 425.27 L431.95 423.17 L431.95 421.91 L431.53 419.81 L431.11 418.97 L430.7 418.55 L429.86 418.13M435.71 418.13 L434.87 422.33M434.87 422.33 L435.71 421.49 L436.96 421.07 L438.21 421.07 L439.47 421.49 L440.3 422.33 L440.72 423.59 L440.72 424.43 L440.3 425.69 L439.47 426.53 L438.21 426.95 L436.96 426.95 L435.71 426.53 L435.29 426.11 L434.87 425.27 L434.87 424.85 L435.29 424.43 L435.71 424.85 L435.29 425.27M438.21 421.07 L439.05 421.49 L439.88 422.33 L440.3 423.59 L440.3 424.43 L439.88 425.69 L439.05 426.53 L438.21 426.95M435.71 418.13 L439.88 418.13M435.71 418.55 L437.8 418.55 L439.88 418.13" fill="none" stroke="#0000ff" stroke-width="1.1" stroke-linecap="round" stroke-linejoin="round"/>
<path d="M296.7 422.62 L297.4 422.62 L298.1 423.02 L298.45 423.41 L298.8 424.21 L300.9 429.76 L301.25 430.55 L301.6 430.95M297.4 422.62 L298.1 423.41 L298.45 424.21 L300.55 429.76 L300.9 430.55 L301.6 430.95 L301.95 430.95M299.15 425.4 L296.35 430.95M299.15 425.4 L296.7 430.95" fill="none" stroke="#0000ff" stroke-width="1.1" stroke-linecap="round" stroke-linejoin="round"/>
<circle cx="356.5" cy="416.8" r="1.25" fill="none" stroke="#0000ff" stroke-width="1.15"/>
<path d="M367.15 416.65 L366.32 417.46 L365.49 418.67 L364.66 420.28 L364.25 422.29 L364.25 423.91 L364.66 425.92 L365.49 427.53 L366.32 428.74 L367.15 429.55M366.32 417.46 L365.49 419.07 L365.08 420.28 L364.66 422.29 L364.66 423.91 L365.08 425.92 L365.49 427.13 L366.32 428.74" fill="none" stroke="#0000ff" stroke-width="1.1" stroke-linecap="round" stroke-linejoin="round"/>
<path d="M443.05 416.6 L444.08 417.39 L445.11 418.57 L446.14 420.15 L446.65 422.12 L446.65 423.69 L446.14 425.66 L445.11 427.24 L444.08 428.42 L443.05 429.21M444.08 417.39 L445.11 418.96 L445.62 420.15 L446.14 422.12 L446.14 423.69 L445.62 425.66 L445.11 426.85 L444.08 428.42" fill="none" stroke="#0000ff" stroke-width="1.1" stroke-linecap="round" stroke-linejoin="round"/>
</svg>
</body></html>
